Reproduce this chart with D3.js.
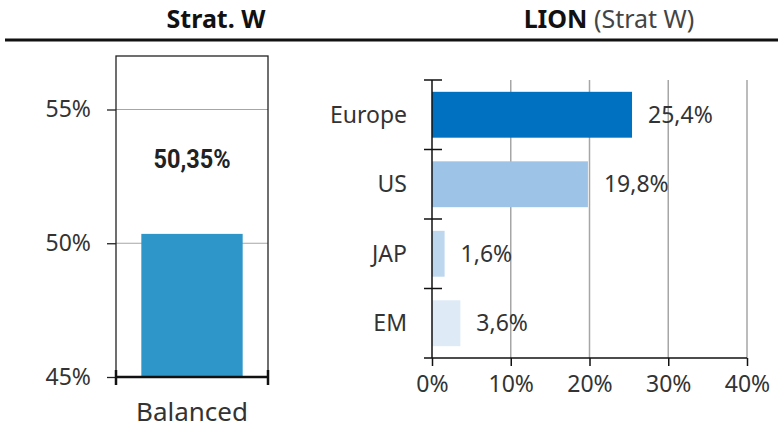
<!DOCTYPE html>
<html>
<head>
<meta charset="utf-8">
<script src="https://cdn.jsdelivr.net/npm/d3@7"></script>
<style>
  html, body { margin: 0; padding: 0; background: #fff; }
  svg { display: block; font-family: "Noto Sans", "Open Sans", sans-serif; }
</style>
</head>
<body>
<svg id="chart" width="778" height="430"></svg>
<script>
// Strategic weight of the balanced portfolio
const stratCategories = ["Balanced"];
const stratValues = [50.35];
const stratTicks = [45, 50, 55];

// LION regional allocation (Strat W)
const regions = ["Europe", "US", "JAP", "EM"];
const regionValues = [25.4, 19.8, 1.6, 3.6];
const regionColors = ["#0070C0", "#9DC3E6", "#BDD7EE", "#DEEBF7"];
const regionTicks = [0, 10, 20, 30, 40];

const fmt = (v, d) => v.toFixed(d).replace(".", ",") + "%";
const textColor = "#333";
const gridColor = "#a6a6a6";

const svg = d3.select("#chart");

// Header titles and rule
svg.append("text")
  .attr("x", 216).attr("y", 28)
  .attr("text-anchor", "middle")
  .attr("font-size", 25).attr("font-weight", "bold").attr("fill", "#111")
  .text("Strat. W");

const t2 = svg.append("text")
  .attr("x", 609).attr("y", 28)
  .attr("text-anchor", "middle")
  .attr("font-size", 25).attr("fill", "#111");
t2.append("tspan").attr("font-weight", "bold").text("LION");
t2.append("tspan").attr("fill", "#444").text(" (Strat W)");

svg.append("line")
  .attr("x1", 5).attr("x2", 778).attr("y1", 40).attr("y2", 40)
  .attr("stroke", "#111").attr("stroke-width", 3);

// ---------- Left panel: single column ----------
const yL = d3.scaleLinear().domain([45, 57]).range([377, 56]);
const xL = d3.scaleBand().domain(stratCategories).range([116, 268])
  .paddingInner(0.2).paddingOuter(0.2);

const left = svg.append("g");

// gridlines
left.selectAll("line.grid").data(stratTicks.filter(t => t > 45)).join("line")
  .attr("x1", 116).attr("x2", 268)
  .attr("y1", d => yL(d)).attr("y2", d => yL(d))
  .attr("stroke", gridColor).attr("stroke-width", 1.2);

// frame
left.append("rect")
  .attr("x", 116).attr("y", yL(57))
  .attr("width", 152).attr("height", yL(45) - yL(57))
  .attr("fill", "none").attr("stroke", "#222").attr("stroke-width", 1.3);

// bar
left.selectAll("rect.bar").data(stratValues).join("rect")
  .attr("class", "bar")
  .attr("x", (d, i) => xL(stratCategories[i]))
  .attr("width", xL.bandwidth())
  .attr("y", d => yL(d))
  .attr("height", d => yL(45) - yL(d))
  .attr("fill", "#2E96C9");

// value label
left.selectAll("text.val").data(stratValues).join("text")
  .attr("x", (d, i) => xL(stratCategories[i]) + xL.bandwidth() / 2)
  .attr("y", 168)
  .attr("text-anchor", "middle")
  .attr("font-family", "Roboto, sans-serif")
  .attr("font-size", 25).attr("font-weight", "bold").attr("fill", "#222")
  .attr("transform", (d, i) => {
    const cx = xL(stratCategories[i]) + xL.bandwidth() / 2;
    return `translate(${cx},0) scale(0.94,1) translate(${-cx},0)`;
  })
  .text(d => fmt(d, 2));

// y axis ticks and labels
const yAxisL = d3.axisLeft(yL).tickValues(stratTicks).tickSize(9).tickPadding(16)
  .tickFormat(d => d + "%");
left.append("g").attr("transform", "translate(116,0)").call(yAxisL)
  .call(g => g.select(".domain").remove())
  .call(g => g.selectAll(".tick line").attr("stroke", "#222").attr("stroke-width", 1.3))
  .call(g => g.selectAll(".tick text").attr("font-size", 23).attr("fill", textColor)
    .attr("font-family", "\"Noto Sans\", sans-serif"));

// bottom axis with end ticks
left.append("line")
  .attr("x1", 116).attr("x2", 268).attr("y1", yL(45)).attr("y2", yL(45))
  .attr("stroke", "#111").attr("stroke-width", 2.5);
left.selectAll("line.endtick").data([116, 268]).join("line")
  .attr("x1", d => d).attr("x2", d => d)
  .attr("y1", yL(45) - 7).attr("y2", yL(45) + 8)
  .attr("stroke", "#111").attr("stroke-width", 2.5);

left.selectAll("text.cat").data(stratCategories).join("text")
  .attr("x", d => xL(d) + xL.bandwidth() / 2)
  .attr("y", 421)
  .attr("text-anchor", "middle")
  .attr("font-size", 26).attr("fill", textColor)
  .text(d => d);

// ---------- Right panel: horizontal bars ----------
const xR = d3.scaleLinear().domain([0, 40]).range([432, 747]);
const yR = d3.scaleBand().domain(regions).range([80, 358])
  .paddingInner(0.34).paddingOuter(0.17);

const right = svg.append("g");

// vertical gridlines
right.selectAll("line.grid").data(regionTicks.filter(t => t > 0)).join("line")
  .attr("x1", d => xR(d)).attr("x2", d => xR(d))
  .attr("y1", 80).attr("y2", 358)
  .attr("stroke", gridColor).attr("stroke-width", 1.5);

// bars
right.selectAll("rect.bar").data(regionValues).join("rect")
  .attr("x", xR(0))
  .attr("y", (d, i) => yR(regions[i]))
  .attr("width", d => xR(d) - xR(0))
  .attr("height", yR.bandwidth())
  .attr("fill", (d, i) => regionColors[i]);

// value labels
right.selectAll("text.val").data(regionValues).join("text")
  .attr("x", d => xR(d) + 16)
  .attr("y", (d, i) => yR(regions[i]) + yR.bandwidth() / 2)
  .attr("dy", "0.35em")
  .attr("font-size", 23).attr("fill", textColor)
  .text(d => fmt(d, 1));

// category axis: line with crossing ticks on band boundaries
right.append("line")
  .attr("x1", xR(0)).attr("x2", xR(0)).attr("y1", 80).attr("y2", 358)
  .attr("stroke", "#111").attr("stroke-width", 1.5);
const bounds = d3.range(regions.length).map(i => yR.range()[0] + i * yR.step());
right.selectAll("line.ctick").data(bounds).join("line")
  .attr("x1", xR(0) - 8).attr("x2", xR(0) + 10)
  .attr("y1", d => d).attr("y2", d => d)
  .attr("stroke", "#111").attr("stroke-width", 1.5);
right.selectAll("text.cat").data(regions).join("text")
  .attr("x", xR(0) - 25)
  .attr("y", d => yR(d) + yR.bandwidth() / 2)
  .attr("dy", "0.35em")
  .attr("text-anchor", "end")
  .attr("font-size", 23).attr("fill", textColor)
  .text(d => d);

// value axis
const xAxisR = d3.axisBottom(xR).tickValues(regionTicks).tickSize(8).tickPadding(10)
  .tickFormat(d => d + "%");
right.append("g").attr("transform", "translate(0,358)").call(xAxisR)
  .call(g => g.select(".domain").remove())
  .call(g => g.selectAll(".tick line").attr("stroke", "#111").attr("stroke-width", 1.5))
  .call(g => g.selectAll(".tick text").attr("font-size", 23).attr("fill", textColor)
    .attr("font-family", "\"Noto Sans\", sans-serif"));
right.append("line")
  .attr("x1", xR(0) - 8).attr("x2", xR(40)).attr("y1", 358).attr("y2", 358)
  .attr("stroke", "#111").attr("stroke-width", 1.5);
</script>
</body>
</html>
